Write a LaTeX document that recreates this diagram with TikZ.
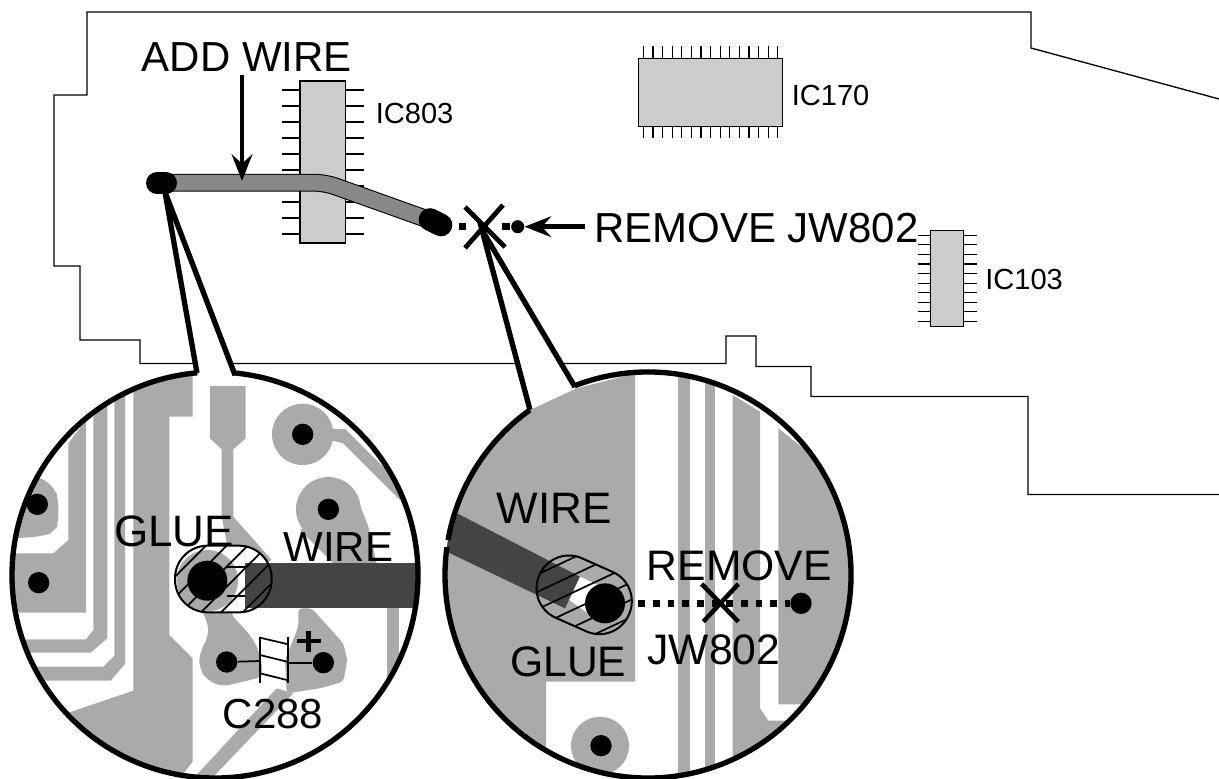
\documentclass[tikz,border=0pt]{standalone}
\usepackage{fontspec}
\setmainfont{Liberation Sans}
\usetikzlibrary{arrows.meta,positioning}
\definecolor{pcbgray}{HTML}{AAAAAA}
\definecolor{chipgray}{HTML}{CCCCCC}
\definecolor{wiregray}{HTML}{888888}
\definecolor{wiredark}{HTML}{444444}
\tikzset{
  outline/.style={line width=1pt,line join=miter},
  chip/.style={draw,fill=chipgray,line width=1.1pt,inner sep=0pt},
  pin/.style={line width=0.9pt},
  lens/.style={line width=4pt,line join=miter},
  pcb/.style={fill=pcbgray},
  hole/.style={circle,fill=black,inner sep=0pt,minimum size=16pt},
  bigtext/.style={font=\fontsize{31.5}{34}\selectfont,inner sep=0pt,anchor=base west},
  smalltext/.style={font=\fontsize{21.8}{24}\selectfont,inner sep=0pt,anchor=west},
  crossbar/.style={line width=3.6pt},
  callarrow/.style={line width=3.6pt,-{Stealth[length=20pt,width=15.5pt,inset=7pt]}},
  hatchline/.style={line width=1.3pt}
}
\begin{document}
\begin{tikzpicture}[x=0.75pt,y=-0.75pt]
\useasboundingbox (0,0) rectangle (1219,778);
% board
\draw[outline] (1219,99) -- (1031,48) -- (1031,12) -- (87,12) -- (87,95) -- (54,95) -- (54,266) -- (80,266) -- (80,340) -- (140,340) -- (140,363.5) -- (726,363.5) -- (726,336) -- (756,336) -- (756,366.5) -- (811,366.5) -- (811,396.5) -- (1028,396.5) -- (1028,494.5) -- (1219,494.5);
% chips
\foreach \y in {0,...,9} {
  \draw[pin] (281.7,90+16*\y) -- (364,90+16*\y);
  \draw[pin] (917.7,235.3+9.56*\y) -- (976.7,235.3+9.56*\y);
}
\foreach \x in {0,...,14} \draw[pin] (643.3+9.6*\x,45.7) -- (643.3+9.6*\x,138.3);
\node[chip,minimum width=34pt,minimum height=121.5pt] (ic803) at (322.7,162) {};
\node[chip,minimum width=108pt,minimum height=51pt] (ic170) at (710.3,92.3) {};
\node[chip,minimum width=24.5pt,minimum height=72pt] (ic103) at (947,278.7) {};
\node[smalltext] (ic803label) at (375.5,113.7) {IC803};
\node[smalltext] (ic170label) at (791.5,95.7) {IC170};
\node[smalltext] (ic103label) at (985,279.3) {IC103};
% callouts
\coordinate (lapex) at (165,192);
\coordinate (rapex) at (482,230);
\fill[white] (lapex) -- (197,373) -- (235,375) -- cycle;
\fill[white] (rapex) -- (530,410) -- (575,387) -- cycle;
\draw[lens] (197,373) -- (lapex) -- (235,375);
\draw[lens] (530,410) -- (rapex) -- (575,387);
% wire on the board
\coordinate (wirea) at (157,182.7);
\coordinate (wireb) at (325,182.7);
\coordinate (wirec) at (435,222);
\draw[line width=13.4pt,rounded corners=8pt] (wirea) -- (wireb) -- (wirec);
\draw[wiregray,line width=11.8pt,rounded corners=8pt] (wirea) -- (wireb) -- (wirec);
\draw[line width=16.5pt,line cap=round] (157,183) -- (166,183);
\draw[line width=17pt,line cap=round] (430,219.5) -- (441,225);
% jumper
\coordinate (jwa) at (437,226.7);
\node[circle,fill=black,inner sep=0pt,minimum size=9.8pt] (jwb) at (517.7,226.7) {};
\draw[line width=5.5pt,dash pattern=on 5.5pt off 10.8pt] (jwa) -- (jwb.center);
\draw[crossbar] (465,207) -- (505,247);
\draw[crossbar] (503,205) -- (465,248);
\node[bigtext] (addwire) at (141.7,71.7) {ADD WIRE};
\node[bigtext] (removejw) at (594,242) {REMOVE JW802};
\coordinate (addtail) at (242,75);
\coordinate (addtip) at (242,181);
\draw[callarrow] (addtail) -- (addtip);
\coordinate (remtail) at (585,226.7);
\draw[callarrow] (remtail) -- (jwb);
% left lens
\begin{scope}[shift={(0,360)},x=0.25pt,y=-0.25pt]
\begin{scope}
\clip (645,645) circle (609);
\fill[pcb] (400,60) -- (578,30) -- (578,170) -- (508,170) -- (508,825) -- (578,895) -- (578,1205) -- (535,1260) -- (300,1260) -- (205,1058) -- (400,992) -- cycle;
\fill[pcb] (343,100) -- (375,100) -- (375,912) -- (332,962) -- (120,962) -- (90,920) -- (310,920) -- (343,888) -- cycle;
\fill[pcb] (280,170) -- (322,130) -- (322,835) -- (272,878) -- (80,878) -- (60,838) -- (258,838) -- (280,810) -- cycle;
\fill[pcb] (205,250) -- (258,180) -- (258,758) -- (30,758) -- (30,580) -- (160,580) -- (205,540) -- cycle;
\fill[pcb,rounded corners=6pt] (120,350) -- (165,385) -- (175,420) -- (175,490) -- (165,515) -- (130,528) -- (50,535) -- (0,535) -- (0,350) -- cycle;
\fill[pcb] (630,78) -- (737,78) -- (737,235) -- (700,268) -- (700,470) -- (815,600) -- (700,650) -- (665,470) -- (665,268) -- (630,235) -- cycle;
\fill[pcb] (908,223) circle (92);
\fill[pcb] (995,207) -- (1035,207) -- (1230,400) -- (1200,420) -- (1030,250) -- (990,240) -- cycle;
\fill[pcb] (985,448) circle (97);
\fill[pcb] (1078,430) -- (1105,500) -- (1130,610) -- (1000,610) -- (900,510) -- cycle;
\fill[pcb,rounded corners=6pt] (600,745) -- (625,790) -- (625,830) -- (598,880) -- (598,925) -- (620,960) -- (665,980) -- (750,960) -- (790,950) -- (780,880) -- (755,830) -- (690,760) -- (690,745) -- cycle;
\fill[pcb,rounded corners=3pt] (895,745) -- (935,745) -- (1030,850) -- (1042,900) -- (1030,965) -- (960,985) -- (860,1000) -- (855,900) -- (895,800) -- cycle;
\fill[pcb] (830,985) -- (585,1250) -- (640,1250) -- (880,1000) -- cycle;
\fill[pcb] (1160,745) rectangle (1198,1010);
\fill[white,rounded corners=24.5pt] (525,557) rectangle (815,757);
\begin{scope}
\clip[rounded corners=24.5pt] (525,557) rectangle (815,757);
\fill[pcb] (622,662) circle (92);
\end{scope}
\fill[wiredark] (735,608) rectangle (1300,745);
\draw[hatchline] (680,620) -- (735,620);
\draw[hatchline] (680,708) -- (735,708);
\end{scope}
\begin{scope}
\clip[rounded corners=24.5pt] (525,557) rectangle (815,757);
\foreach \s in {1175,1237,1300,1360,1420,1485} \draw[hatchline] (\s-500,500) -- (\s-800,800);
\end{scope}
\draw[line width=1.5pt,rounded corners=24.5pt] (525,557) rectangle (815,757);
\node[hole,minimum size=30pt] (glueleft) at (622,662) {};
\node[hole] (padaleft) at (112,433) {};
\node[hole] (padbleft) at (116,668) {};
\node[hole] (padcleft) at (908,223) {};
\node[hole] (paddleft) at (985,448) {};
\node[hole] (capa) at (680,906) {};
\node[hole] (capb) at (970,908) {};
% capacitor
\coordinate (capl) at (780,903);
\coordinate (capr) at (865,908);
\draw[line width=1.3pt] (capa) -- (capl);
\draw[line width=1.3pt] (capr) -- (capb);
\draw[line width=1.3pt] (780,830) -- (780,970);
\draw[line width=1.3pt] (865,830) -- (865,970);
\draw[line width=1.3pt] (780,833) -- (865,853);
\draw[line width=1.3pt] (780,885) -- (865,906);
\draw[line width=1.3pt] (780,940) -- (865,961);
\draw[line width=3.4pt] (892,843) -- (962,843);
\draw[line width=3.4pt] (926,812) -- (926,875);
\end{scope}
\draw[lens] ([shift={(275:203)}]215,575) arc (275:625:203);
\node[bigtext,font=\fontsize{33}{35}\selectfont] (glueone) at (114,546.7) {GLUE};
\node[bigtext] (wireone) at (283.3,561.7) {WIRE};
\node[bigtext] (capname) at (222.7,728.3) {C288};
% right lens
\begin{scope}[shift={(430,360)},x=0.25pt,y=-0.25pt]
\begin{scope}
\clip (654,645) circle (609);
\fill[pcb] (300,150) -- (440,85) -- (615,40) -- (615,965) -- (348,965) -- (348,1300) -- (0,1300) -- (0,150) -- cycle;
\fill[pcb] (743,0) rectangle (780,1300);
\fill[pcb] (825,0) rectangle (856,1300);
\fill[pcb] (908,105) -- (990,155) -- (990,1045) -- (1015,1082) -- (1300,1082) -- (1300,1300) -- (908,1300) -- cycle;
\fill[pcb] (1045,205) -- (1120,265) -- (1400,265) -- (1400,1033) -- (1045,1033) -- cycle;
\fill[pcb] (510,1157) circle (87);
\fill[wiredark] (85,462) -- (450,650) -- (405,745) -- (50,575) -- (0,553) -- (0,425) -- cycle;
\fill[white] (450,650) -- (535,690) -- (495,775) -- (418,720) -- cycle;
\end{scope}
\begin{scope}
\clip[rotate around={-24:(462.5,704.5)},rounded corners=24pt] (315.8,607) rectangle (609.2,802);
\foreach \s in {795,847,899,951,1003,1055,1107} \draw[hatchline] (200,\s-94) -- (700,\s-329);
\end{scope}
\draw[line width=1.5pt,rotate around={-24:(462.5,704.5)},rounded corners=24pt] (315.8,607) rectangle (609.2,802);
\node[hole,minimum size=30pt] (glueright) at (525,730) {};
\node[hole] (jwend) at (1113,730) {};
\node[hole] (padright) at (513,1157) {};
\coordinate (jwstart) at (625,730);
\draw[line width=5pt,dash pattern=on 5pt off 6pt] (jwstart) -- (jwend);
\draw[line width=3.4pt] (815,672) -- (925,785);
\draw[line width=3.4pt] (925,672) -- (820,785);
\end{scope}
\draw[lens] ([shift={(248.8:203)}]648,575) arc (248.8:547.9:203);
\draw[lens] ([shift={(189.9:203)}]648,575) arc (189.9:234.4:203);
\node[bigtext,font=\fontsize{33}{35}\selectfont] (wiretwo) at (496.7,523.3) {WIRE};
\node[bigtext,font=\fontsize{32}{34}\selectfont] (removetwo) at (646.7,580) {REMOVE};
\node[bigtext,font=\fontsize{32}{34}\selectfont] (jwtwo) at (647.3,664) {JW802};
\node[bigtext,font=\fontsize{32}{34}\selectfont] (gluetwo) at (510,676.7) {GLUE};
\end{tikzpicture}
\end{document}
